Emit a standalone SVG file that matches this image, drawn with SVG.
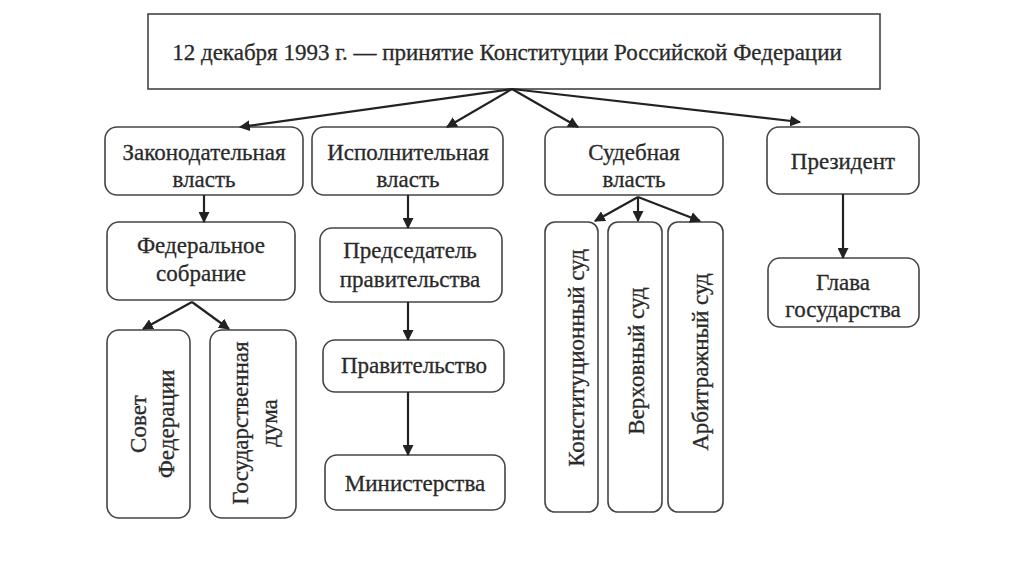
<svg xmlns="http://www.w3.org/2000/svg" width="1024" height="574" viewBox="0 0 1024 574">
<defs>
<marker id="ah" viewBox="0 0 10 10" refX="9" refY="5" markerWidth="5" markerHeight="5" orient="auto" markerUnits="strokeWidth">
<path d="M0,0 L10,5 L0,10 z" fill="#222"/>
</marker>
<style>
.box{fill:#fff;stroke:#444;stroke-width:1.6}
.t{font-family:"Liberation Serif","Times New Roman",serif;font-size:23px;fill:#2a2a2a;stroke:#2a2a2a;stroke-width:0.3;text-anchor:middle}
.v{font-family:"Liberation Serif","Times New Roman",serif;font-size:23px;fill:#2a2a2a;stroke:#2a2a2a;stroke-width:0.3;text-anchor:middle;dominant-baseline:central}
.c{fill:none;stroke:#222;stroke-width:2.2;marker-end:url(#ah)}
</style>
</defs>
<rect width="1024" height="574" fill="#fff"/>
<g id="top">
<rect class="box" x="148" y="14" width="732" height="75"/>
<text class="t" x="507" y="60">12 декабря 1993 г. — принятие Конституции Российской Федерации</text>
</g>
<g id="zak">
<rect class="box" x="105" y="127" width="198" height="68" rx="12"/>
<text class="t" x="204" y="160">Законодательная</text>
<text class="t" x="204" y="187">власть</text>
</g>
<g id="isp">
<rect class="box" x="312" y="127" width="191" height="68" rx="12"/>
<text class="t" x="408" y="160">Исполнительная</text>
<text class="t" x="408" y="187">власть</text>
</g>
<g id="sud">
<rect class="box" x="545" y="127" width="178" height="68" rx="12"/>
<text class="t" x="634" y="160">Судебная</text>
<text class="t" x="634" y="187">власть</text>
</g>
<g id="prez">
<rect class="box" x="767" y="127" width="152" height="67" rx="12"/>
<text class="t" x="843" y="169">Президент</text>
</g>
<g id="fed">
<rect class="box" x="107" y="222" width="188" height="78" rx="12"/>
<text class="t" x="201" y="253">Федеральное</text>
<text class="t" x="201" y="281">собрание</text>
</g>
<g id="pred">
<rect class="box" x="320" y="228" width="182" height="74" rx="12"/>
<text class="t" x="410" y="258">Председатель</text>
<text class="t" x="410" y="287">правительства</text>
</g>
<g id="glava">
<rect class="box" x="768" y="258" width="151" height="69" rx="12"/>
<text class="t" x="843" y="290">Глава</text>
<text class="t" x="843" y="317">государства</text>
</g>
<g id="sovet">
<rect class="box" x="107" y="330" width="83" height="188" rx="12"/>
<text class="v" transform="translate(138 424) rotate(-90)">Совет</text>
<text class="v" transform="translate(166 424) rotate(-90)">Федерации</text>
</g>
<g id="duma">
<rect class="box" x="210" y="330" width="86" height="188" rx="12"/>
<text class="v" transform="translate(240 423) rotate(-90)">Государственная</text>
<text class="v" transform="translate(269 423) rotate(-90)">дума</text>
</g>
<g id="prav">
<rect class="box" x="323" y="340" width="181" height="52" rx="12"/>
<text class="t" x="414" y="373">Правительство</text>
</g>
<g id="min">
<rect class="box" x="325" y="455" width="180" height="55" rx="12"/>
<text class="t" x="415" y="491">Министерства</text>
</g>
<g id="ks">
<rect class="box" x="545" y="222" width="53" height="290" rx="10"/>
<text class="v" transform="translate(576 358) rotate(-90)">Конституционный суд</text>
</g>
<g id="vs">
<rect class="box" x="608" y="222" width="54" height="290" rx="10"/>
<text class="v" transform="translate(636 361) rotate(-90)">Верховный суд</text>
</g>
<g id="as">
<rect class="box" x="668" y="222" width="55" height="290" rx="10"/>
<text class="v" transform="translate(700 362) rotate(-90)">Арбитражный суд</text>
</g>
<g id="connectors">
<line class="c" x1="512" y1="89" x2="240" y2="127"/>
<line class="c" x1="512" y1="89" x2="447" y2="127"/>
<line class="c" x1="512" y1="89" x2="578" y2="127"/>
<line class="c" x1="512" y1="89" x2="800" y2="122"/>
<line class="c" x1="204" y1="195" x2="204" y2="222"/>
<line class="c" x1="408" y1="195" x2="408" y2="228"/>
<line class="c" x1="843" y1="194" x2="843" y2="258"/>
<line class="c" x1="192" y1="302" x2="143" y2="329"/>
<line class="c" x1="192" y1="302" x2="229" y2="329"/>
<line class="c" x1="408" y1="302" x2="408" y2="340"/>
<line class="c" x1="408" y1="392" x2="408" y2="455"/>
<line class="c" x1="638" y1="197" x2="595" y2="221"/>
<line class="c" x1="638" y1="197" x2="638" y2="221"/>
<line class="c" x1="638" y1="197" x2="700" y2="221"/>
</g>
</svg>
